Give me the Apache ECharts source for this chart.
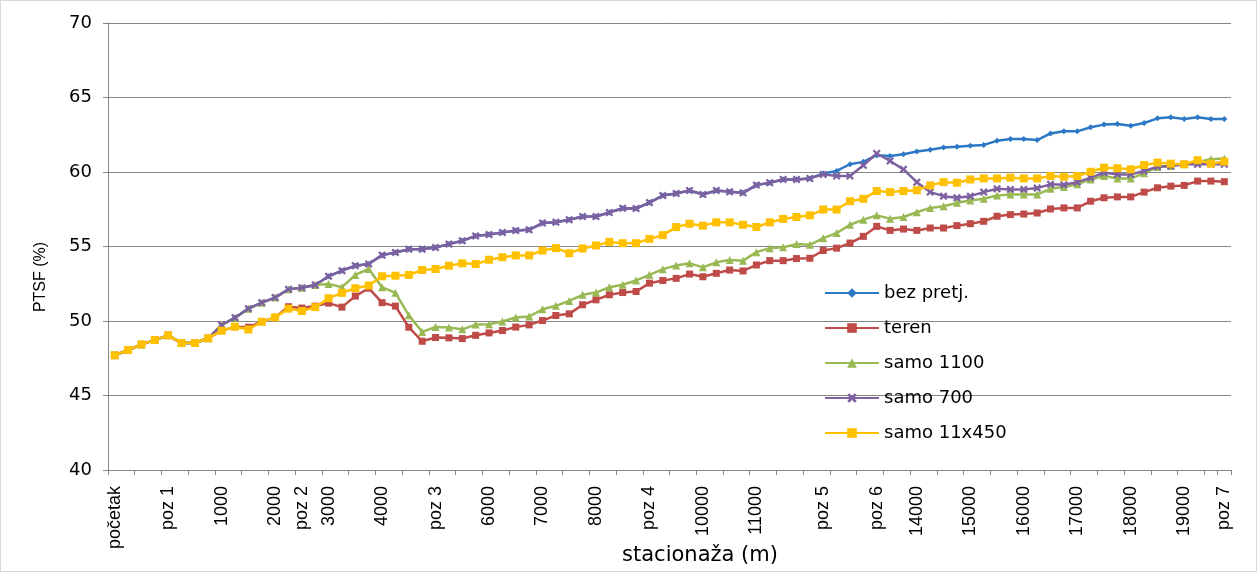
<!DOCTYPE html>
<html>
<head>
<meta charset="utf-8">
<script src="https://cdn.jsdelivr.net/npm/echarts@6/dist/echarts.min.js"></script>
<style>
  html, body { margin: 0; padding: 0; background: #fff; overflow: hidden; }
  #chart { width: 1257px; height: 572px; box-sizing: border-box; border: 1px solid #d9d9d9; }
</style>
</head>
<body>
<div id="chart"></div>
<script>
// Stationing labels along the road (empty where Excel shows no label)
const tickLabels = [
  'početak', '', '', '', 'poz 1', '', '', '', '1000', '', '', '', '2000', '', 'poz 2', '',
  '3000', '', '', '', '4000', '', '', '', 'poz 3', '', '', '', '6000', '', '', '',
  '7000', '', '', '', '8000', '', '', '', 'poz 4', '', '', '', '10000', '', '', '',
  '11000', '', '', '', '', 'poz 5', '', '', '', 'poz 6', '', '', '14000', '', '', '',
  '15000', '', '', '', '16000', '', '', '', '17000', '', '', '', '18000', '', '', '',
  '19000', '', '', 'poz 7'
];

// PTSF (%) per station for each scenario
const bezPretj = [
  47.70, 48.05, 48.43, 48.72, 49.04, 48.52, 48.52, 48.84, 49.73, 50.22, 50.83, 51.23, 51.57, 52.13, 52.23, 52.42,
  53.00, 53.38, 53.71, 53.82, 54.42, 54.60, 54.82, 54.82, 54.93, 55.16, 55.38, 55.71, 55.80, 55.94, 56.07, 56.12,
  56.57, 56.63, 56.79, 57.01, 57.01, 57.28, 57.57, 57.55, 57.95, 58.42, 58.56, 58.76, 58.49, 58.76, 58.67, 58.60,
  59.12, 59.28, 59.50, 59.50, 59.57, 59.90, 60.07, 60.52, 60.68, 61.13, 61.08, 61.19, 61.37, 61.49, 61.64, 61.69,
  61.76, 61.82, 62.09, 62.21, 62.21, 62.14, 62.59, 62.73, 62.73, 63.00, 63.18, 63.22, 63.11, 63.29, 63.60, 63.67,
  63.56, 63.67, 63.56, 63.56
];
const teren = [
  47.70, 48.05, 48.43, 48.72, 49.04, 48.52, 48.52, 48.84, 49.35, 49.62, 49.58, 49.95, 50.24, 50.96, 50.87, 51.00,
  51.20, 50.93, 51.67, 52.20, 51.23, 51.00, 49.58, 48.64, 48.89, 48.87, 48.82, 49.04, 49.20, 49.36, 49.59, 49.74,
  50.03, 50.37, 50.48, 51.09, 51.42, 51.76, 51.91, 51.98, 52.54, 52.72, 52.86, 53.15, 52.97, 53.20, 53.42, 53.36,
  53.76, 54.05, 54.05, 54.19, 54.21, 54.73, 54.89, 55.23, 55.68, 56.35, 56.08, 56.17, 56.08, 56.24, 56.24, 56.40,
  56.53, 56.69, 57.03, 57.14, 57.18, 57.25, 57.52, 57.59, 57.59, 58.04, 58.27, 58.33, 58.33, 58.65, 58.94, 59.05,
  59.10, 59.39, 59.39, 59.35
];
const samo1100 = [
  47.70, 48.05, 48.43, 48.72, 49.04, 48.52, 48.52, 48.84, 49.73, 50.22, 50.83, 51.23, 51.57, 52.13, 52.23, 52.42,
  52.49, 52.27, 53.09, 53.49, 52.27, 51.89, 50.38, 49.27, 49.60, 49.56, 49.44, 49.76, 49.78, 49.97, 50.23, 50.30,
  50.79, 51.02, 51.35, 51.76, 51.91, 52.27, 52.43, 52.72, 53.10, 53.48, 53.72, 53.87, 53.60, 53.94, 54.10, 54.05,
  54.62, 54.89, 54.95, 55.16, 55.11, 55.56, 55.90, 56.46, 56.80, 57.09, 56.87, 56.98, 57.30, 57.59, 57.70, 57.93,
  58.09, 58.20, 58.42, 58.49, 58.49, 58.49, 58.87, 59.00, 59.17, 59.50, 59.73, 59.57, 59.57, 59.91, 60.34, 60.41,
  60.56, 60.68, 60.86, 60.90
];
const samo700 = [
  47.70, 48.05, 48.43, 48.72, 49.04, 48.52, 48.52, 48.84, 49.73, 50.22, 50.83, 51.23, 51.57, 52.13, 52.23, 52.42,
  53.00, 53.38, 53.71, 53.82, 54.42, 54.60, 54.82, 54.82, 54.93, 55.16, 55.38, 55.71, 55.80, 55.94, 56.07, 56.12,
  56.57, 56.63, 56.79, 57.01, 57.01, 57.28, 57.57, 57.55, 57.95, 58.42, 58.56, 58.76, 58.49, 58.76, 58.67, 58.60,
  59.12, 59.28, 59.50, 59.50, 59.57, 59.84, 59.73, 59.73, 60.45, 61.24, 60.74, 60.18, 59.32, 58.65, 58.38, 58.27,
  58.38, 58.65, 58.87, 58.83, 58.83, 58.92, 59.17, 59.14, 59.32, 59.62, 59.95, 59.84, 59.84, 60.07, 60.36, 60.41,
  60.52, 60.52, 60.52, 60.52
];
const samo11x450 = [
  47.70, 48.05, 48.43, 48.72, 49.04, 48.52, 48.52, 48.84, 49.35, 49.62, 49.43, 49.95, 50.24, 50.83, 50.67, 50.93,
  51.53, 51.89, 52.20, 52.38, 53.00, 53.04, 53.09, 53.42, 53.49, 53.71, 53.87, 53.82, 54.11, 54.28, 54.40, 54.40,
  54.73, 54.89, 54.55, 54.87, 55.07, 55.31, 55.22, 55.22, 55.51, 55.76, 56.30, 56.53, 56.40, 56.62, 56.62, 56.46,
  56.31, 56.62, 56.85, 56.98, 57.09, 57.48, 57.48, 58.04, 58.20, 58.72, 58.65, 58.72, 58.78, 59.10, 59.32, 59.28,
  59.50, 59.57, 59.57, 59.62, 59.57, 59.57, 59.73, 59.68, 59.73, 60.02, 60.29, 60.25, 60.18, 60.47, 60.63, 60.56,
  60.52, 60.79, 60.56, 60.70
];
const yTicks = { min: 40, max: 70, step: 5 };

const seriesNames = ['bez pretj.', 'teren', 'samo 1100', 'samo 700', 'samo 11x450'];
const seriesValues = [bezPretj, teren, samo1100, samo700, samo11x450];
const seriesColors = ['#2C78C4', '#BE4B48', '#98B954', '#7D60A0', '#FFC000'];
// Excel-like markers: diamond, square, triangle, star-cross, square
const crossPath = 'path://M2,0 L5,3 L8,0 L10,2 L7,5 L10,8 L8,10 L5,7 L2,10 L0,8 L3,5 L0,2 Z';
const markerShapes = ['diamond', 'rect', 'triangle', crossPath, 'rect'];
const markerSizes = [6, 7, 8, 8, 8];

const W = 1255, H = 570;
const chart = echarts.init(document.getElementById('chart'), null, { renderer: 'canvas', width: W, height: H });

const axisGrey = '#868686';

chart.setOption({
  animation: false,
  backgroundColor: '#ffffff',
  grid: { left: 107, right: 25, top: 22, bottom: 101, containLabel: false },
  legend: {
    orient: 'vertical',
    left: 818,
    top: 278,
    itemWidth: 54,
    itemHeight: 12,
    itemGap: 17,
    textStyle: { fontFamily: 'DejaVu Sans', fontSize: 18, color: '#000' },
    data: seriesNames
  },
  xAxis: {
    type: 'category',
    boundaryGap: true,
    data: tickLabels.map((_, i) => String(i)),
    axisLine: { lineStyle: { color: axisGrey, width: 1 } },
    axisTick: { show: true, interval: 1, length: 5, lineStyle: { color: axisGrey } },
    axisLabel: {
      interval: 0,
      rotate: 90,
      margin: 16,
      fontFamily: 'Liberation Sans',
      fontSize: 18,
      color: '#000',
      formatter: (v, i) => tickLabels[i]
    },
    splitLine: { show: false }
  },
  yAxis: {
    type: 'value',
    min: yTicks.min,
    max: yTicks.max,
    interval: yTicks.step,
    axisLine: { show: true, lineStyle: { color: axisGrey, width: 1 } },
    axisTick: { show: true, length: 5, lineStyle: { color: axisGrey } },
    axisLabel: { margin: 16, fontFamily: 'DejaVu Sans', fontSize: 18, color: '#000' },
    splitLine: { show: true, lineStyle: { color: axisGrey, width: 1 } }
  },
  graphic: [{
    type: 'text',
    x: 40,
    y: 276,
    rotation: Math.PI / 2,
    style: {
      text: 'PTSF (%)',
      fontFamily: 'Liberation Sans',
      fontSize: 16,
      fill: '#000',
      align: 'center',
      verticalAlign: 'middle'
    }
  }, {
    type: 'text',
    x: 699,
    y: 555,
    style: {
      text: 'stacionaža (m)',
      fontFamily: 'DejaVu Sans',
      fontSize: 21,
      fill: '#000',
      align: 'center',
      verticalAlign: 'middle'
    }
  }],
  series: seriesNames.map((name, k) => ({
    name,
    type: 'line',
    data: seriesValues[k],
    symbol: markerShapes[k],
    symbolSize: markerSizes[k],
    showSymbol: true,
    lineStyle: { color: seriesColors[k], width: 2.5 },
    itemStyle: { color: seriesColors[k] },
    z: 2 + k
  }))
});
</script>
</body>
</html>
